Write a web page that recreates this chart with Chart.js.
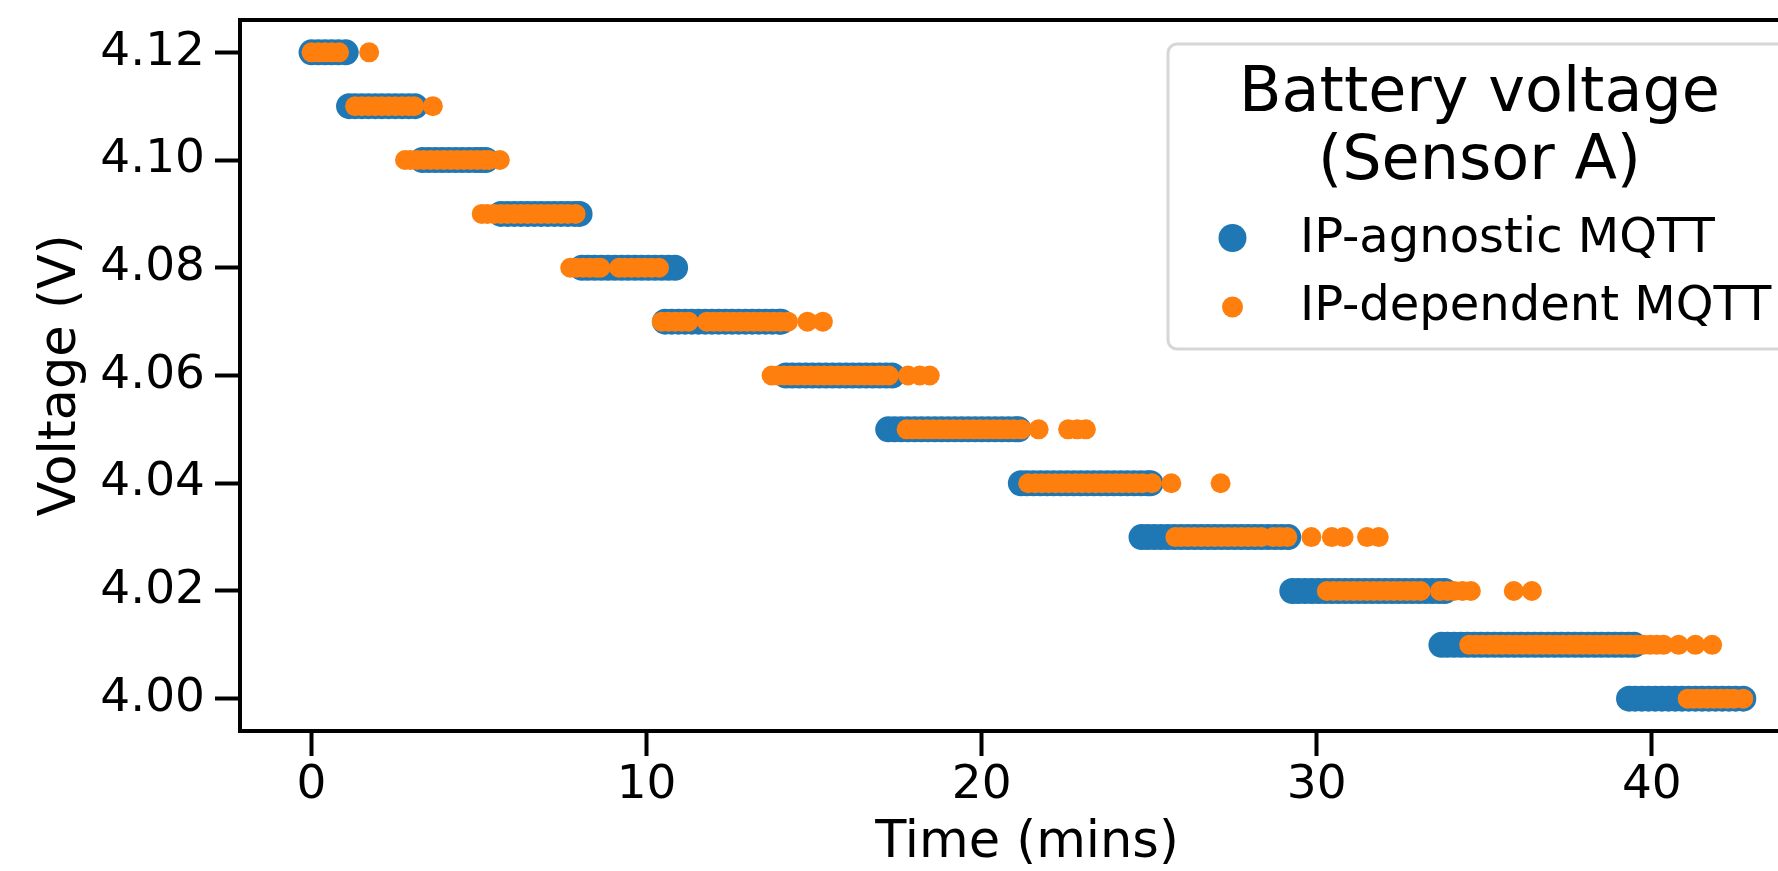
<!DOCTYPE html>
<html>
<head>
<meta charset="utf-8">
<script src="https://cdn.jsdelivr.net/npm/chart.js@4.4.1/dist/chart.umd.min.js"></script>
<style>
  html, body { margin: 0; padding: 0; background: #fff; overflow: hidden; }
  #wrap { width: 1830px; height: 871px; }
</style>
</head>
<body>
<div id="wrap"><canvas id="c" width="1830" height="871"></canvas></div>
<script>
// ---------------- data ----------------
const voltLevels = [4.12, 4.11, 4.10, 4.09, 4.08, 4.07, 4.06, 4.05, 4.04, 4.03, 4.02, 4.01, 4.00];

const agnosticTimes = [
  [0.0, 0.2, 0.4, 0.6, 0.8, 1.02],
  [1.12, 1.3, 1.5, 1.7, 1.9, 2.1, 2.3, 2.5, 2.7, 2.9, 3.09],
  [3.31, 3.5, 3.7, 3.9, 4.1, 4.3, 4.5, 4.7, 4.9, 5.05, 5.2],
  [5.65, 5.85, 6.05, 6.25, 6.45, 6.65, 6.85, 7.05, 7.25, 7.45, 7.65, 7.85, 8.0],
  [8.07, 8.25, 8.45, 8.65, 8.85, 9.05, 9.25, 9.45, 9.65, 9.85, 10.05, 10.25, 10.45, 10.65, 10.85],
  [10.55, 10.75, 10.95, 11.15, 11.35, 11.55, 11.75, 11.95, 12.15, 12.35, 12.55, 12.75, 12.95, 13.15, 13.35, 13.55, 13.75, 13.95, 14.02],
  [14.16, 14.35, 14.55, 14.75, 14.95, 15.15, 15.35, 15.55, 15.75, 15.95, 16.15, 16.35, 16.55, 16.75, 16.95, 17.15, 17.33],
  [17.21, 17.4, 17.6, 17.8, 18.0, 18.2, 18.4, 18.6, 18.8, 19.0, 19.2, 19.4, 19.6, 19.8, 20.0, 20.2, 20.4, 20.6, 20.8, 21.0, 21.1],
  [21.17, 21.35, 21.55, 21.75, 21.95, 22.15, 22.35, 22.55, 22.75, 22.95, 23.15, 23.35, 23.55, 23.75, 23.95, 24.15, 24.35, 24.55, 24.75, 24.95, 25.04],
  [24.77, 24.95, 25.15, 25.35, 25.55, 25.75, 25.95, 26.15, 26.35, 26.55, 26.75, 26.95, 27.15, 27.35, 27.55, 27.75, 27.95, 28.15, 28.35, 28.55, 28.75, 28.95, 29.15],
  [29.27, 29.45, 29.65, 29.85, 30.05, 30.25, 30.45, 30.65, 30.85, 31.05, 31.25, 31.45, 31.65, 31.85, 32.05, 32.25, 32.45, 32.65, 32.85, 33.05, 33.25, 33.45, 33.65, 33.82],
  [33.72, 33.9, 34.1, 34.3, 34.5, 34.7, 34.9, 35.1, 35.3, 35.5, 35.7, 35.9, 36.1, 36.3, 36.5, 36.7, 36.9, 37.1, 37.3, 37.5, 37.7, 37.9, 38.1, 38.3, 38.5, 38.7, 38.9, 39.1, 39.3, 39.47],
  [39.32, 39.5, 39.7, 39.9, 40.1, 40.3, 40.5, 40.7, 40.9, 41.1, 41.3, 41.5, 41.7, 41.9, 42.1, 42.3, 42.5, 42.73]
];

const dependentTimes = [
  [0.0, 0.2, 0.4, 0.6, 0.82, 1.72],
  [1.3, 1.5, 1.7, 1.9, 2.1, 2.3, 2.5, 2.7, 2.9, 3.06, 3.62],
  [2.79, 2.95, 3.15, 3.35, 3.55, 3.75, 3.95, 4.15, 4.35, 4.55, 4.75, 4.95, 5.15, 5.3, 5.62],
  [5.08, 5.25, 5.45, 5.65, 5.85, 6.05, 6.25, 6.45, 6.65, 6.85, 7.05, 7.25, 7.45, 7.65, 7.88],
  [7.72, 7.9, 8.1, 8.3, 8.5, 8.62, 9.18, 9.35, 9.55, 9.75, 9.95, 10.15, 10.37],
  [10.45, 10.65, 10.85, 11.05, 11.25, 11.8, 12.0, 12.2, 12.4, 12.6, 12.8, 13.0, 13.2, 13.4, 13.6, 13.8, 14.0, 14.22, 14.8, 15.26],
  [13.73, 13.9, 14.1, 14.3, 14.5, 14.7, 14.9, 15.1, 15.3, 15.5, 15.7, 15.9, 16.1, 16.3, 16.5, 16.7, 16.9, 17.05, 17.23, 17.8, 18.15, 18.45],
  [17.76, 17.95, 18.15, 18.35, 18.55, 18.75, 18.95, 19.15, 19.35, 19.55, 19.75, 19.95, 20.15, 20.35, 20.55, 20.75, 20.95, 21.19, 21.7, 22.58, 22.85, 23.11],
  [21.39, 21.6, 21.8, 22.0, 22.2, 22.4, 22.6, 22.8, 23.0, 23.2, 23.4, 23.6, 23.8, 24.0, 24.2, 24.4, 24.6, 24.8, 25.08, 25.66, 27.13],
  [25.78, 25.95, 26.15, 26.35, 26.55, 26.75, 26.95, 27.15, 27.35, 27.55, 27.75, 27.95, 28.15, 28.35, 28.7, 28.9, 29.12, 29.84, 30.45, 30.8, 31.5, 31.85],
  [30.3, 30.5, 30.7, 30.9, 31.1, 31.3, 31.5, 31.7, 31.9, 32.1, 32.3, 32.5, 32.7, 32.9, 33.1, 33.68, 33.9, 34.1, 34.35, 34.6, 35.88, 36.42],
  [34.55, 34.75, 34.95, 35.15, 35.35, 35.55, 35.75, 35.95, 36.15, 36.35, 36.55, 36.75, 36.95, 37.15, 37.35, 37.55, 37.75, 37.95, 38.15, 38.35, 38.55, 38.75, 38.95, 39.15, 39.35, 39.55, 39.75, 39.95, 40.15, 40.35, 40.8, 41.3, 41.8],
  [41.07, 41.25, 41.45, 41.65, 41.85, 42.05, 42.25, 42.45, 42.73]
];

const seriesNames = ['IP-agnostic MQTT', 'IP-dependent MQTT'];
const legendTitleLines = ['Battery voltage', '(Sensor A)'];
const xTickValues = [0, 10, 20, 30, 40];
const yTickValues = [4.00, 4.02, 4.04, 4.06, 4.08, 4.10, 4.12];
const xAxisTitle = 'Time (mins)';
const yAxisTitle = 'Voltage (V)';

// ---------------- build points ----------------
function toPoints(timesPerLevel) {
  const pts = [];
  timesPerLevel.forEach((times, i) => {
    times.forEach(t => pts.push({ x: t, y: voltLevels[i] }));
  });
  return pts;
}

const FONT = "'DejaVu Sans', 'Liberation Sans', sans-serif";
const BLUE = '#1f77b4';
const ORANGE = '#ff7f0e';

// Frame (all four spines)
const framePlugin = {
  id: 'frame',
  afterDatasetsDraw(chart) {
    const { ctx, chartArea: a } = chart;
    ctx.save();
    ctx.strokeStyle = '#000';
    ctx.lineWidth = 4;
    ctx.strokeRect(a.left, a.top, a.right - a.left, a.bottom - a.top);
    ctx.restore();
  }
};

// Matplotlib-like legend in the upper right of the axes
const legendPlugin = {
  id: 'mplLegend',
  afterDraw(chart) {
    const { ctx, chartArea: a } = chart;
    const right = a.right - 23;
    const left = 1168;
    const top = a.top + 24;
    const bottom = top + 305;
    const r = 9;
    ctx.save();
    ctx.beginPath();
    ctx.moveTo(left + r, top);
    ctx.lineTo(right - r, top);
    ctx.arcTo(right, top, right, top + r, r);
    ctx.lineTo(right, bottom - r);
    ctx.arcTo(right, bottom, right - r, bottom, r);
    ctx.lineTo(left + r, bottom);
    ctx.arcTo(left, bottom, left, bottom - r, r);
    ctx.lineTo(left, top + r);
    ctx.arcTo(left, top, left + r, top, r);
    ctx.closePath();
    ctx.fillStyle = 'rgba(255,255,255,0.85)';
    ctx.fill();
    ctx.strokeStyle = '#d6d6d6';
    ctx.lineWidth = 3;
    ctx.stroke();

    const cx = (left + right) / 2;
    ctx.fillStyle = '#000';
    ctx.textAlign = 'center';
    ctx.textBaseline = 'alphabetic';
    ctx.font = '62px ' + FONT;
    ctx.fillText(legendTitleLines[0], cx, top + 67);
    ctx.fillText(legendTitleLines[1], cx, top + 135);

    const ds = chart.data.datasets;
    const entryBase = [top + 208, top + 276];
    const markerY = [top + 194, top + 263];
    const markerR = [14, 10.5];
    ctx.font = '48px ' + FONT;
    ctx.textAlign = 'left';
    ds.forEach((d, i) => {
      ctx.beginPath();
      ctx.arc(1232.5, markerY[i], markerR[i], 0, Math.PI * 2);
      ctx.fillStyle = d.backgroundColor;
      ctx.fill();
      ctx.fillStyle = '#000';
      ctx.fillText(d.label, 1300, entryBase[i]);
    });
    ctx.restore();
  }
};

Chart.defaults.font.family = FONT;
Chart.defaults.color = '#000';

const chart = new Chart(document.getElementById('c').getContext('2d'), {
  type: 'scatter',
  data: {
    datasets: [
      {
        label: seriesNames[0],
        data: toPoints(agnosticTimes),
        backgroundColor: BLUE,
        borderColor: BLUE,
        pointRadius: 13,
        pointBorderWidth: 0,
        pointHoverRadius: 13,
        order: 2
      },
      {
        label: seriesNames[1],
        data: toPoints(dependentTimes),
        backgroundColor: ORANGE,
        borderColor: ORANGE,
        pointRadius: 10,
        pointBorderWidth: 0,
        pointHoverRadius: 10,
        order: 1
      }
    ]
  },
  options: {
    responsive: false,
    animation: false,
    devicePixelRatio: 1,
    events: [],
    layout: { padding: { left: 0, top: 20, right: 16, bottom: 0 } },
    plugins: { legend: { display: false }, tooltip: { enabled: false } },
    scales: {
      x: {
        type: 'linear',
        position: 'bottom',
        min: -2.135,
        max: 44.84,
        afterFit(s) { s.height = 140; s.paddingLeft = 0; s.paddingRight = 0; },
        afterBuildTicks(s) { s.ticks = xTickValues.map(v => ({ value: v })); },
        grid: { display: true, drawOnChartArea: false, drawTicks: true, tickLength: 25, tickWidth: 4, tickColor: '#000' },
        border: { display: false },
        ticks: {
          font: { family: FONT, size: 47 },
          color: '#000',
          padding: 2,
          maxRotation: 0,
          autoSkip: false,
          callback: v => String(v)
        },
        title: {
          display: true,
          text: xAxisTitle,
          color: '#000',
          font: { family: FONT, size: 51, lineHeight: 1 },
          padding: { top: 0, bottom: 2 }
        }
      },
      y: {
        type: 'linear',
        position: 'left',
        min: 3.994,
        max: 4.126,
        afterFit(s) { s.width = 240; s.paddingTop = 0; s.paddingBottom = 0; },
        afterBuildTicks(s) { s.ticks = yTickValues.map(v => ({ value: v })); },
        grid: { display: true, drawOnChartArea: false, drawTicks: true, tickLength: 25, tickWidth: 4, tickColor: '#000' },
        border: { display: false },
        ticks: {
          font: { family: FONT, size: 47 },
          color: '#000',
          padding: 10,
          autoSkip: false,
          callback: v => Number(v).toFixed(2)
        },
        title: {
          display: true,
          text: yAxisTitle,
          color: '#000',
          font: { family: FONT, size: 51, lineHeight: 1 },
          padding: { top: 36, bottom: 0 }
        }
      }
    }
  },
  plugins: [framePlugin, legendPlugin]
});
</script>
</body>
</html>
